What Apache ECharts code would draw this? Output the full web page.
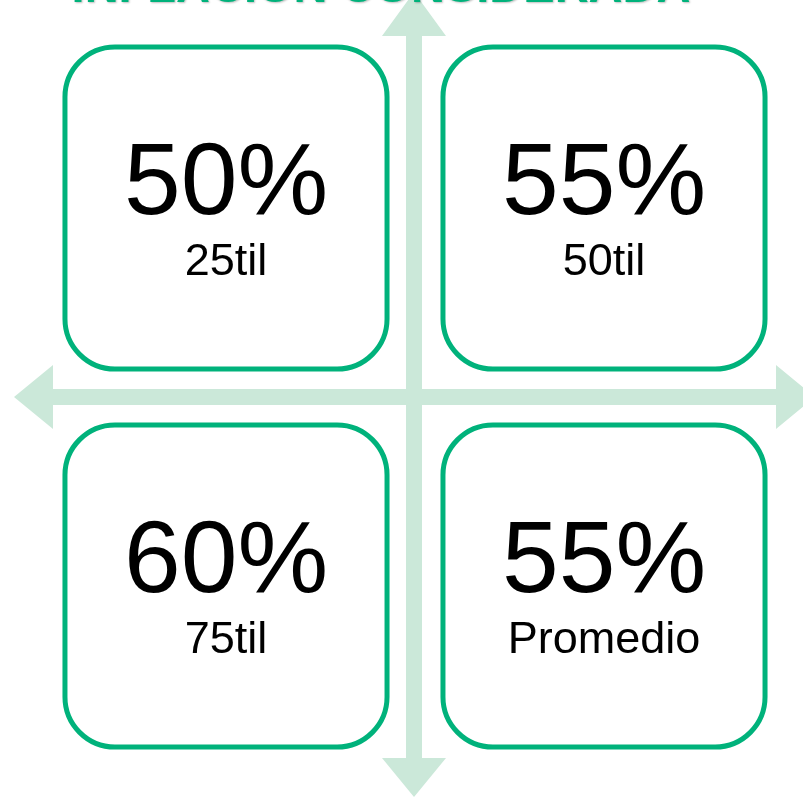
<!DOCTYPE html>
<html>
<head>
<meta charset="utf-8">
<script src="https://cdn.jsdelivr.net/npm/echarts@6/dist/echarts.min.js"></script>
<style>
  html, body { margin: 0; padding: 0; background: #fff; }
  #chart { width: 803px; height: 800px; }
</style>
</head>
<body>
<div id="chart"></div>
<script>
// datos de los cuadrantes
var cols = [0, 1, 0, 1];
var rows = [0, 0, 1, 1];
var pctValues = [50, 55, 60, 55];
var labels = ["25til", "50til", "75til", "Promedio"];
var colCats = ["c0", "c1"];
var rowCats = ["r0", "r1"];
var title = "INFLACIÓN CONSIDERADA";

var green = "#00B27B";
var arrowColor = "#CBE8D9";
var fontFam = "'Liberation Sans', Arial, sans-serif";

var seriesData = [];
for (var i = 0; i < pctValues.length; i++) {
  seriesData.push([cols[i], rows[i], pctValues[i], labels[i]]);
}

var myChart = echarts.init(document.getElementById("chart"));
var option = {
  animation: false,
  backgroundColor: "#fff",
  grid: { left: 37, top: 19, width: 756, height: 756 },
  xAxis: {
    type: "category",
    data: colCats,
    show: false
  },
  yAxis: {
    type: "category",
    data: rowCats,
    inverse: true,
    show: false
  },
  graphic: [
    // flecha vertical
    {
      type: "polygon",
      z: 0,
      shape: {
        points: [[414, -8], [446, 36], [422, 36], [422, 758], [446, 758], [414, 797],
                 [382, 758], [406, 758], [406, 36], [382, 36]]
      },
      style: { fill: arrowColor }
    },
    // flecha horizontal
    {
      type: "polygon",
      z: 0,
      shape: {
        points: [[14, 397], [53, 365], [53, 389], [776, 389], [776, 365], [815, 397],
                 [776, 429], [776, 405], [53, 405], [53, 429]]
      },
      style: { fill: arrowColor }
    },
    // titulo cortado arriba
    {
      type: "text",
      z: 1,
      x: 381,
      y: 13,
      style: {
        text: title,
        x: 0,
        y: 0,
        align: "center",
        verticalAlign: "bottom",
        fill: green,
        font: "bold 47px " + fontFam,
        textShadowColor: "rgba(0,0,0,0.25)",
        textShadowBlur: 2,
        textShadowOffsetX: 1,
        textShadowOffsetY: 1
      }
    }
  ],
  series: [
    {
      type: "custom",
      z: 5,
      data: seriesData,
      renderItem: function (params, api) {
        var c = api.coord([api.value(0), api.value(1)]);
        var s = api.size([1, 1]);
        var w = s[0] * 0.852;
        var h = s[1] * 0.852;
        var pct = api.value(2) + "%";
        var lab = labels[params.dataIndex];
        return {
          type: "group",
          children: [
            {
              type: "rect",
              shape: { x: c[0] - w / 2, y: c[1] - h / 2, width: w, height: h, r: 50 },
              style: { fill: "#fff", stroke: green, lineWidth: 5 }
            },
            {
              type: "text",
              style: {
                x: c[0],
                y: c[1] - 22,
                text: pct,
                align: "center",
                verticalAlign: "middle",
                fill: "#000",
                font: "102px " + fontFam
              }
            },
            {
              type: "text",
              style: {
                x: c[0],
                y: c[1] + 55,
                text: lab,
                align: "center",
                verticalAlign: "middle",
                fill: "#000",
                font: "45px " + fontFam
              }
            }
          ]
        };
      }
    }
  ]
};
myChart.setOption(option, true);
window.addEventListener("resize", function () {
  myChart.resize();
});
</script>
</body>
</html>
